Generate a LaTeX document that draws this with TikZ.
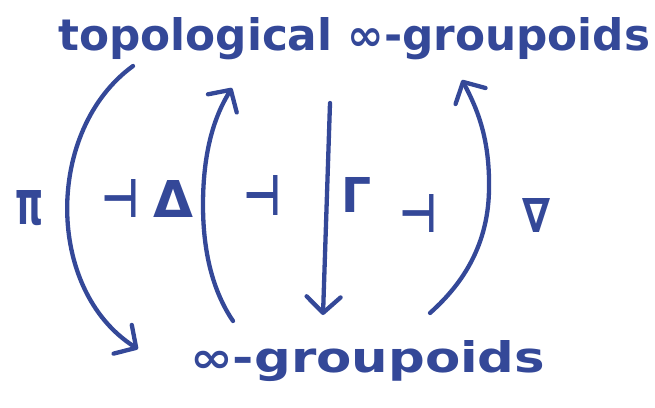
\documentclass[tikz,border=0pt]{standalone}
\usepackage{fontspec}
\setmainfont{DejaVu Sans}
\usetikzlibrary{arrows.meta}
\definecolor{ink}{RGB}{52,72,152}
\begin{document}
\begin{tikzpicture}[x=1pt,y=-1pt,
  stroke/.style={draw=ink,line width=4.3pt,line cap=round,line join=round,
    -{Straight Barb[length=16pt,width=34pt,round]}},
  lbl/.style={text=ink,inner sep=0pt,anchor=center,font=\bfseries},
  ttl/.style={text=ink,inner sep=0pt,anchor=base west,font=\bfseries}]
\useasboundingbox (0,0) rectangle (655,407);

% titles
\node[ttl] (top) at (58,50) {\resizebox{592pt}{33pt}{topological ∞-groupoids}};
\node[ttl] (bot) at (190,372) {\resizebox{355pt}{32pt}{∞-groupoids}};

% labels
\node[lbl] (pi)    at (30,208)  {\resizebox{28pt}{34pt}{π}};
\node[lbl] (adjA)  at (120,198) {\resizebox{38pt}{38pt}{⊣}};
\node[lbl] (delta) at (173,199) {\resizebox{40pt}{37pt}{Δ}};
\node[lbl] (adjB)  at (262,195) {\resizebox{38pt}{40pt}{⊣}};
\node[lbl] (gam)   at (356,195) {\resizebox{30pt}{35pt}{Γ}};
\node[lbl] (adjC)  at (418,213) {\resizebox{38pt}{38pt}{⊣}};
\node[lbl] (nab)   at (536,215) {\resizebox{28pt}{34pt}{∇}};

% arrow end points
\coordinate (a1s) at (133,66);
\coordinate (a1e) at (138,349);
\coordinate (a2s) at (233,321);
\coordinate (a2m) at (203,205);
\coordinate (a2e) at (232,88);
\coordinate (a3s) at (330,103);
\coordinate (a3e) at (323,315);
\coordinate (a4s) at (430,313);
\coordinate (a4m) at (489,190);
\coordinate (a4e) at (462,80);

% Pi : top -> bottom
\draw[stroke] (a1s) .. controls (45,130) and (45,290) .. (a1e);
% Delta : bottom -> top
\draw[stroke] (a2s) .. controls (212,290) and (203,250) .. (a2m)
                    .. controls (203,150) and (215,115) .. (a2e);
% Gamma : top -> bottom
\draw[stroke] (a3s) -- (a3e);
% Nabla : bottom -> top
\draw[stroke] (a4s) .. controls (458,288) and (488,250) .. (a4m)
                    .. controls (490,140) and (478,110) .. (a4e);
\end{tikzpicture}
\end{document}
